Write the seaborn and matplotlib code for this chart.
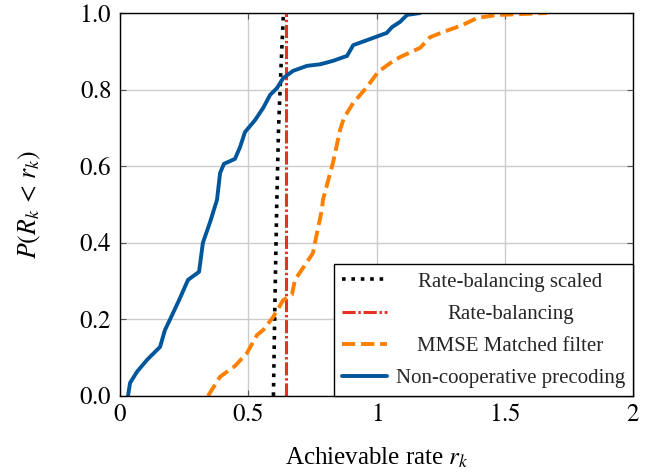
import matplotlib
matplotlib.use("Agg")
import matplotlib.pyplot as plt
import numpy as np
import pandas as pd
import seaborn as sns

# CDF points
noncoop_rate = [0.031, 0.039, 0.066, 0.105, 0.156, 0.175, 0.195, 0.230, 0.265, 0.308,
                0.323, 0.351, 0.378, 0.390, 0.405, 0.448, 0.468, 0.487, 0.526, 0.558,
                0.585, 0.612, 0.636, 0.675, 0.729, 0.780, 0.830, 0.885, 0.909, 1.040,
                1.060, 1.092, 1.119, 1.170]
noncoop_cdf = [0.000, 0.034, 0.063, 0.094, 0.128, 0.172, 0.200, 0.250, 0.303, 0.324,
               0.400, 0.454, 0.512, 0.582, 0.606, 0.619, 0.650, 0.689, 0.720, 0.752,
               0.786, 0.804, 0.830, 0.849, 0.862, 0.866, 0.875, 0.888, 0.916, 0.948,
               0.963, 0.977, 0.995, 1.000]

mmse_rate = [0.343, 0.390, 0.417, 0.448, 0.495, 0.534, 0.558, 0.597, 0.636, 0.670,
             0.682, 0.721, 0.752, 0.768, 0.787, 0.791, 0.830, 0.858, 0.873, 0.909,
             0.963, 1.006, 1.053, 1.092, 1.170, 1.209, 1.259, 1.337, 1.392, 1.470,
             1.560, 1.665]
mmse_cdf = [0.000, 0.050, 0.063, 0.078, 0.112, 0.159, 0.172, 0.206, 0.250, 0.264,
            0.303, 0.342, 0.373, 0.426, 0.486, 0.512, 0.608, 0.695, 0.726, 0.765,
            0.807, 0.846, 0.869, 0.885, 0.909, 0.937, 0.950, 0.969, 0.987, 0.995,
            0.997, 1.000]

rb_rate = [0.646, 0.646]
rb_cdf = [0.0, 1.0]

rbs_rate = [0.598, 0.604, 0.611, 0.618, 0.627, 0.637]
rbs_cdf = [0.0, 0.25, 0.5, 0.7, 0.85, 1.0]

x_ticks = [0, 0.5, 1, 1.5, 2]
x_ticklabels = ["$0$", "$0.5$", "$1$", "$1.5$", "$2$"]
y_ticks = [0.0, 0.2, 0.4, 0.6, 0.8, 1.0]
y_ticklabels = ["$0.0$", "$0.2$", "$0.4$", "$0.6$", "$0.8$", "$1.0$"]

sns.set_theme(style="whitegrid")
plt.rcParams["font.family"] = ["Liberation Serif", "DejaVu Serif"]
plt.rcParams["mathtext.fontset"] = "stix"

fig, ax = plt.subplots(figsize=(6.67, 4.73), dpi=100)
fig.subplots_adjust(left=0.18, right=0.949, bottom=0.163, top=0.9725)

series = [
    ("Rate-balancing scaled", rbs_rate, rbs_cdf, "black", (0, (1, 1.6)), 2.6),
    ("Rate-balancing", rb_rate, rb_cdf, "#e63224", (0, (4.3, 0.9, 0.8, 0.9)), 2.2),
    ("MMSE Matched filter", mmse_rate, mmse_cdf, "#ff8000", (0, (3.4, 1.5)), 2.8),
    ("Non-cooperative precoding", noncoop_rate, noncoop_cdf, "#00569b", "-", 2.8),
]

for label, xs, ys, color, ls, lw in series:
    df = pd.DataFrame({"rate": xs, "cdf": ys})
    sns.lineplot(data=df, x="rate", y="cdf", ax=ax, color=color, linestyle=ls,
                 linewidth=lw, label=label, sort=False, estimator=None)

ax.set_xlim(0, 2)
ax.set_ylim(0, 1)
ax.set_xticks(x_ticks)
ax.set_xticklabels(x_ticklabels)
ax.set_yticks(y_ticks)
ax.set_yticklabels(y_ticklabels)
ax.grid(True, color="#cccccc", linewidth=1.0)
for s in ax.spines.values():
    s.set_color("black")
    s.set_linewidth(1.0)
ax.tick_params(direction="in", length=4, width=0.8, color="#555555",
               labelsize=18, top=True, right=True, bottom=True, left=True,
               labelcolor="black", pad=6)
ax.set_xlabel("Achievable rate $r_k$", fontsize=18, labelpad=14, color="black")
ax.set_ylabel(r"$P(R_k\,<\,r_k)$", fontsize=18.5, labelpad=26, color="black")

leg = ax.legend(loc="lower right", fontsize=15, frameon=True, fancybox=False,
                edgecolor="black", framealpha=1, borderaxespad=0,
                handlelength=2.2, handletextpad=0.4, labelspacing=0.6,
                borderpad=0.38)
leg.get_frame().set_linewidth(1.0)

# center legend entries like pgfplots does
fig.canvas.draw()
renderer = fig.canvas.get_renderer()
texts = leg.get_texts()
widths = [t.get_window_extent(renderer).width for t in texts]
wmax = max(widths)
for t, w in zip(texts, widths):
    t.set_x((wmax - w) / 2)

fig.savefig("out.png", dpi=100)
